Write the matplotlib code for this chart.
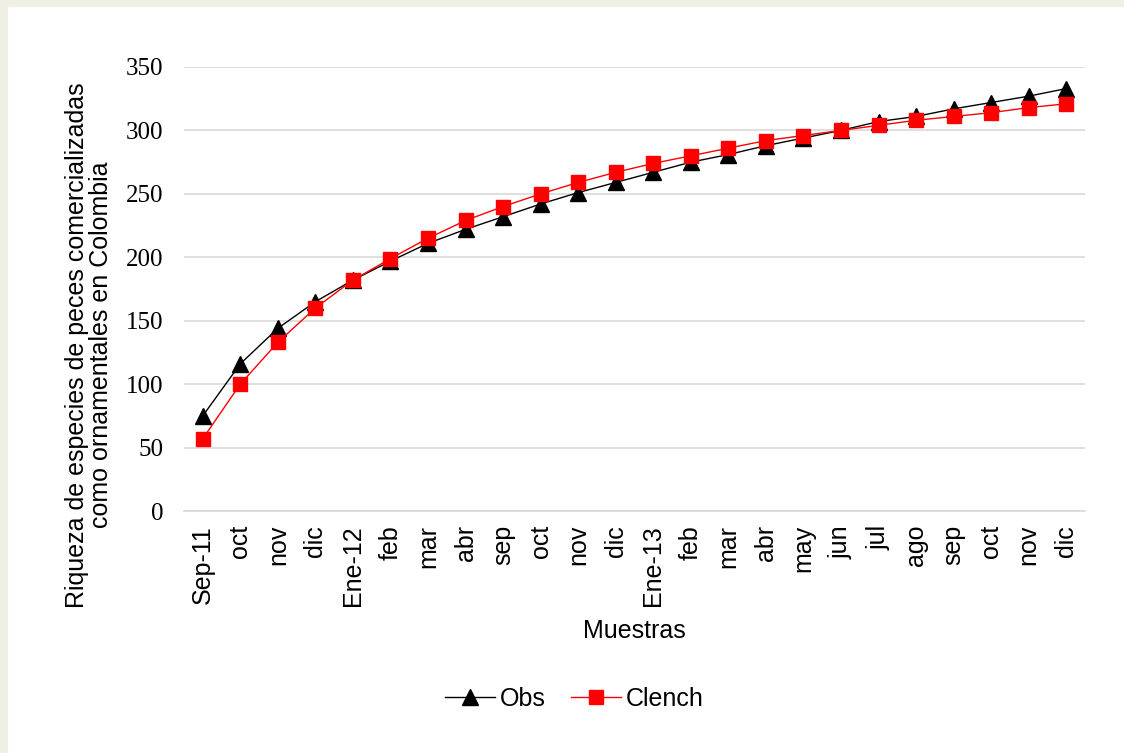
import matplotlib.pyplot as plt
from matplotlib.patches import Rectangle

# month labels along the x axis
muestras = ["Sep-11", "oct", "nov", "dic", "Ene-12", "feb", "mar", "abr",
            "sep", "oct", "nov", "dic", "Ene-13", "feb", "mar", "abr",
            "may", "jun", "jul", "ago", "sep", "oct", "nov", "dic"]

# observed richness and Clench model
obs = [75, 116, 144, 165, 182, 197, 211, 222, 232, 242, 251, 259,
       267, 275, 281, 288, 294, 300, 307, 311, 317, 322, 327, 333]
clench = [57, 100, 133, 160, 182, 199, 215, 229, 240, 250, 259, 267,
          274, 280, 286, 292, 296, 300, 304, 308, 311, 314, 318, 321]

y_ticks = [0, 50, 100, 150, 200, 250, 300, 350]

plt.rcParams['font.family'] = ['Liberation Sans', 'DejaVu Sans']

W, H = 1124, 753
fig = plt.figure(figsize=(W / 100, H / 100), dpi=100, facecolor='white')
# beige frame strips on top and left
fig.patches.append(Rectangle((0, 1 - 6 / H), 1, 6 / H, transform=fig.transFigure,
                             color='#EFEFE3', zorder=0))
fig.patches.append(Rectangle((0, 0), 7 / W, 1, transform=fig.transFigure,
                             color='#EFEFE3', zorder=0))

ax = fig.add_axes([184 / W, 1 - 511 / H, (1085 - 184) / W, (511 - 67) / H])

x = range(len(muestras))
ax.plot(x, obs, color='black', lw=1, marker='^', ms=11, label='Obs', zorder=3)
ax.plot(x, clench, color='#FF0000', lw=1, marker='s', ms=10, label='Clench', zorder=4)

ax.set_xlim(-0.5, len(muestras) - 0.5)
ax.set_ylim(0, 350)
ax.set_yticks(y_ticks)
ax.set_yticklabels([str(v) for v in y_ticks], family='Liberation Serif', fontsize=18)
ax.set_xticks(list(x))
ax.set_xticklabels(muestras, rotation=90, fontsize=18)
ax.tick_params(length=0)
ax.tick_params(axis='y', pad=15)
ax.tick_params(axis='x', pad=10)

ax.grid(axis='y', color='#D9D9D9', lw=1.2)
ax.set_axisbelow(True)
for side in ['top', 'right', 'left']:
    ax.spines[side].set_visible(False)
ax.spines['bottom'].set_color('#D9D9D9')
ax.spines['bottom'].set_linewidth(1.2)

ax.set_xlabel('Muestras', fontsize=18)
ax.xaxis.set_label_coords(0.5, -(619 - 511) / 444, transform=ax.transAxes)
ax.set_ylabel('Riqueza de especies de peces comercializadas\ncomo ornamentales en Colombia',
              fontsize=18, linespacing=1.0, va='center')
ax.yaxis.set_label_coords(-(184 - 89) / 901, (511 - 345) / 444, transform=ax.transAxes)

fig.legend(loc='center', bbox_to_anchor=(574 / W, 1 - 699 / H), ncol=2,
           frameon=False, fontsize=18, handlelength=2.0, columnspacing=1.0,
           handletextpad=0.2)

fig.savefig('out.png', dpi=100, facecolor='white')
